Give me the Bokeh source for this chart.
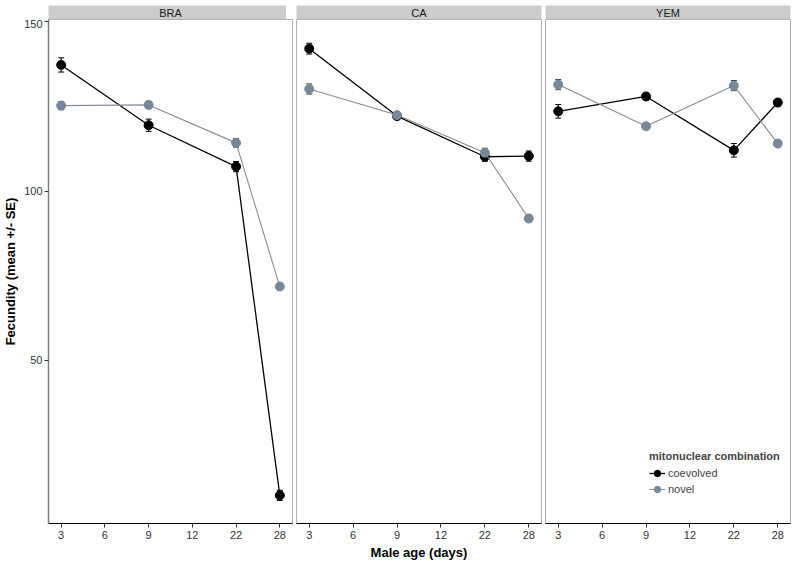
from bokeh.plotting import figure
from bokeh.models import (ColumnDataSource, Whisker, TeeHead, FixedTicker, Range1d,
                          Legend, LegendItem)
from bokeh.layouts import row, column
from bokeh.core.properties import value
from bokeh.embed import file_html
from bokeh.resources import INLINE

populations = ["BRA", "CA", "YEM"]
tick_labels = ["3", "6", "9", "12", "22", "28"]
ages = [3, 9, 22, 28]
groups = ["coevolved", "novel"]

bra_coev = [137.2, 119.4, 107.2, 10.2]
bra_coev_se = [2.1, 1.8, 1.5, 1.5]
bra_novel = [125.2, 125.4, 114.2, 71.8]
bra_novel_se = [1.2, 1.0, 1.3, 0.6]

ca_coev = [142.0, 122.1, 110.1, 110.3]
ca_coev_se = [1.6, 1.0, 1.3, 1.5]
ca_novel = [130.1, 122.4, 111.3, 91.9]
ca_novel_se = [1.5, 1.0, 1.3, 1.0]

yem_coev = [123.5, 127.9, 112.0, 126.1]
yem_coev_se = [2.0, 1.0, 2.0, 1.0]
yem_novel = [131.4, 119.1, 131.1, 114.0]
yem_novel_se = [1.5, 0.8, 1.5, 0.8]

panel_data = {
    "BRA": [(bra_coev, bra_coev_se), (bra_novel, bra_novel_se)],
    "CA": [(ca_coev, ca_coev_se), (ca_novel, ca_novel_se)],
    "YEM": [(yem_coev, yem_coev_se), (yem_novel, yem_novel_se)],
}

point_colors = {"coevolved": "#000000", "novel": "#778899"}
line_colors = {"coevolved": "#000000", "novel": "#848d98"}

FONT = "Liberation Sans"
x_pos = [tick_labels.index(str(a)) for a in ages]

cols = []
legend_items = {}
for i, pop in enumerate(populations):
    first = i == 0
    last = i == len(populations) - 1
    fw = 244 if first else 245
    lb = 40 if first else 2
    rb = 2

    # strip
    s = figure(frame_width=fw, frame_height=14, x_range=Range1d(0, 1), y_range=Range1d(0, 1),
               output_backend="svg", toolbar_location=None,
               min_border_left=lb, min_border_right=rb, min_border_top=5, min_border_bottom=0)
    s.axis.visible = False
    s.grid.visible = False
    s.background_fill_color = "#cccccc"
    s.outline_line_color = None
    s.text(x=[0.5], y=[0.5], text=[pop], text_align="center", text_baseline="middle",
           text_font=value(FONT), text_font_size="11px", text_color="#1a1a1a")

    p = figure(frame_width=fw, frame_height=504,
               x_range=Range1d(-0.29, 5.29), y_range=Range1d(1.9, 150.6),
               output_backend="svg", toolbar_location=None,
               min_border_left=lb, min_border_right=rb, min_border_top=0, min_border_bottom=0)
    p.grid.visible = False
    p.outline_line_color = "#b3b3b3"
    p.outline_line_width = 1

    p.xaxis.ticker = FixedTicker(ticks=list(range(len(tick_labels))))
    p.xaxis.major_label_overrides = {k: lab for k, lab in enumerate(tick_labels)}
    p.xaxis.minor_tick_line_color = None
    p.xaxis.major_tick_in = 0
    p.xaxis.major_tick_out = 4
    p.xaxis.major_tick_line_color = "#333333"
    p.xaxis.axis_line_color = "#000000"
    p.xaxis.major_label_text_font = FONT
    p.xaxis.major_label_text_font_size = "11px"
    p.xaxis.major_label_text_color = "#333333"
    p.xaxis.major_label_standoff = 3
    if i == 1:
        p.xaxis.axis_label = "Male age (days)"
        p.xaxis.axis_label_text_font = FONT
        p.xaxis.axis_label_text_font_size = "13px"
        p.xaxis.axis_label_text_font_style = "bold"
        p.xaxis.axis_label_text_color = "#000000"
        p.xaxis.axis_label_standoff = 3
    else:
        p.xaxis.axis_label = " "
        p.xaxis.axis_label_text_font_size = "13px"
        p.xaxis.axis_label_standoff = 3

    if first:
        p.yaxis.ticker = FixedTicker(ticks=[50, 100, 150])
        p.yaxis.minor_tick_line_color = None
        p.yaxis.major_tick_in = 0
        p.yaxis.major_tick_out = 4
        p.yaxis.major_tick_line_color = "#333333"
        p.yaxis.axis_line_color = "#7f7f7f"
        p.yaxis.axis_line_width = 1.5
        p.yaxis.major_label_text_font = FONT
        p.yaxis.major_label_text_font_size = "11px"
        p.yaxis.major_label_text_color = "#333333"
        p.yaxis.major_label_standoff = 2
        p.yaxis.axis_label = "Fecundity (mean +/- SE)"
        p.yaxis.axis_label_text_font = FONT
        p.yaxis.axis_label_text_font_size = "13px"
        p.yaxis.axis_label_text_font_style = "bold"
        p.yaxis.axis_label_text_color = "#000000"
        p.yaxis.axis_label_standoff = 3
    else:
        p.yaxis.visible = False

    for g, (means, ses) in zip(groups, panel_data[pop]):
        src = ColumnDataSource(dict(
            x=x_pos, y=means,
            upper=[m + e for m, e in zip(means, ses)],
            lower=[m - e for m, e in zip(means, ses)],
        ))
        ln = p.line("x", "y", source=src, line_color=line_colors[g],
                    line_width=1.3 if g == "coevolved" else 1.1)
        wc = "#000000" if g == "coevolved" else "#3a4048"
        p.add_layout(Whisker(source=src, base="x", upper="upper", lower="lower",
                             line_color=wc, line_width=1,
                             upper_head=TeeHead(size=6, line_color=wc, line_width=1),
                             lower_head=TeeHead(size=6, line_color=wc, line_width=1)))
        ci = p.scatter("x", "y", source=src, size=9, fill_color=point_colors[g],
                       line_color=point_colors[g])
        if last:
            legend_items[g] = [ln, ci]

    if last:
        leg = Legend(items=[LegendItem(label=g, renderers=legend_items[g]) for g in groups],
                     location=(104, 26))
        leg.title = "mitonuclear combination"
        leg.title_text_font = FONT
        leg.title_text_font_style = "bold"
        leg.title_text_font_size = "11px"
        leg.title_standoff = 3
        leg.label_text_font = FONT
        leg.label_text_font_size = "11px"
        leg.label_standoff = 3
        leg.glyph_width = 16
        leg.glyph_height = 16
        leg.spacing = 0
        leg.padding = 0
        leg.margin = 0
        leg.border_line_color = None
        leg.background_fill_alpha = 0
        p.add_layout(leg)

    cols.append(column(s, p, spacing=0))

layout = row(*cols, spacing=0)

open("out.html", "w").write(file_html(layout, INLINE))
